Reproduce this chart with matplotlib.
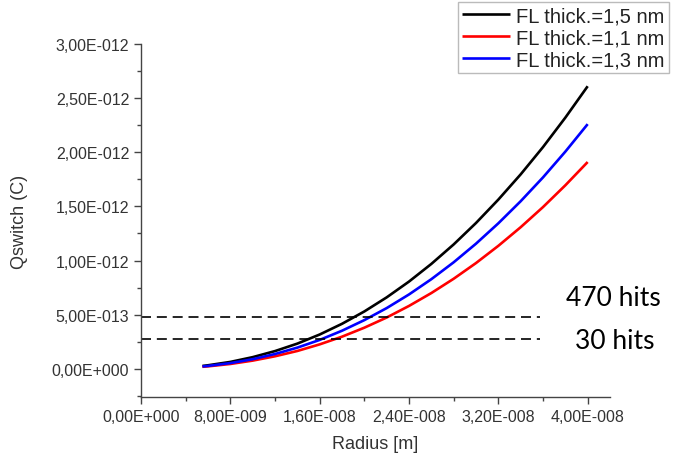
import matplotlib
matplotlib.use("Agg")
import matplotlib.pyplot as plt
from matplotlib.ticker import FixedLocator, FixedFormatter, MultipleLocator

# radius (nm) and Qswitch (1e-12 C)
radius_nm = [5.5, 6, 8, 10, 12, 14, 16, 18, 20, 22, 24, 26, 28, 30, 32, 34, 36, 38, 40]
q_15 = [0.027, 0.033, 0.064, 0.108, 0.164, 0.233, 0.317, 0.416, 0.530, 0.660,
        0.806, 0.969, 1.149, 1.347, 1.563, 1.796, 2.048, 2.320, 2.61]
q_11 = [0.019, 0.023, 0.045, 0.076, 0.116, 0.165, 0.226, 0.297, 0.380, 0.474,
        0.581, 0.700, 0.832, 0.977, 1.136, 1.308, 1.494, 1.695, 1.91]
q_13 = [0.022, 0.027, 0.053, 0.089, 0.137, 0.196, 0.267, 0.352, 0.450, 0.561,
        0.687, 0.828, 0.984, 1.156, 1.344, 1.548, 1.768, 2.006, 2.26]
labels = ["FL thick.=1,5 nm", "FL thick.=1,1 nm", "FL thick.=1,3 nm"]

hit_levels = [0.48e-12, 0.28e-12]
hit_names = ["470 hits", "30 hits"]

xticks = [0, 8e-9, 1.6e-8, 2.4e-8, 3.2e-8, 4.0e-8]
xtick_labels = ["0,00E+000", "8,00E-009", "1,60E-008", "2,40E-008", "3,20E-008", "4,00E-008"]
yticks = [0, 0.5e-12, 1.0e-12, 1.5e-12, 2.0e-12, 2.5e-12, 3.0e-12]
ytick_labels = ["0,00E+000", "5,00E-013", "1,00E-012", "1,50E-012", "2,00E-012",
                "2,50E-012", "3,00E-012"]

plt.rcParams["font.family"] = ["Liberation Sans", "DejaVu Sans"]
txt = "#333333"

fig = plt.figure(figsize=(6.73, 4.64), dpi=100)
ax = fig.add_axes([141 / 673, 66 / 464, 469 / 673, 353 / 464])

r = [v * 1e-9 for v in radius_nm]
for q, c, lab in zip([q_15, q_11, q_13], ["black", "#ff0000", "#0000ff"], labels):
    ax.plot(r, [v * 1e-12 for v in q], color=c, lw=1.9, label=lab,
            solid_capstyle="butt")

# dashed threshold lines
for lvl in hit_levels:
    ax.plot([0, 3.57e-8], [lvl, lvl], color="black", lw=1.2, ls=(0, (6, 3.5)))

ax.set_xlim(0, 4.2e-8)
ax.set_ylim(-0.26e-12, 3.0e-12)

ax.xaxis.set_major_locator(FixedLocator(xticks))
ax.xaxis.set_major_formatter(FixedFormatter(xtick_labels))
ax.xaxis.set_minor_locator(MultipleLocator(4e-9))
ax.yaxis.set_major_locator(FixedLocator(yticks))
ax.yaxis.set_major_formatter(FixedFormatter(ytick_labels))
ax.yaxis.set_minor_locator(MultipleLocator(0.25e-12))

for s in ["top", "right"]:
    ax.spines[s].set_visible(False)
for s in ["left", "bottom"]:
    ax.spines[s].set_color("#444444")
    ax.spines[s].set_linewidth(1.0)
ax.tick_params(which="major", length=5, width=1.0, color="#444444",
               labelsize=11.5, labelcolor=txt)
ax.tick_params(which="minor", length=3, width=1.0, color="#444444")

ax.set_xlabel("Radius [m]", fontsize=13, color=txt, labelpad=8)
ax.set_ylabel("Qswitch (C)", fontsize=13, color=txt, labelpad=17)

leg = ax.legend(loc="upper right", bbox_to_anchor=(669 / 673, 1 - 3 / 464),
                bbox_transform=fig.transFigure, borderaxespad=0, fontsize=14.5,
                frameon=True, fancybox=False, edgecolor="#aaaaaa",
                handlelength=2.4, handletextpad=0.3, labelspacing=0.15,
                borderpad=0.2)
leg.get_frame().set_linewidth(1.0)
for t in leg.get_texts():
    t.set_color("#222222")

# annotations at the right of the dashed lines
for name, xc, yc in zip(hit_names, [613, 615], [298, 342]):
    fig.text(xc / 673, 1 - yc / 464, name, fontsize=19,
             family=["Lato", "DejaVu Sans"], ha="center", va="center")

fig.savefig("out.png", dpi=100)
